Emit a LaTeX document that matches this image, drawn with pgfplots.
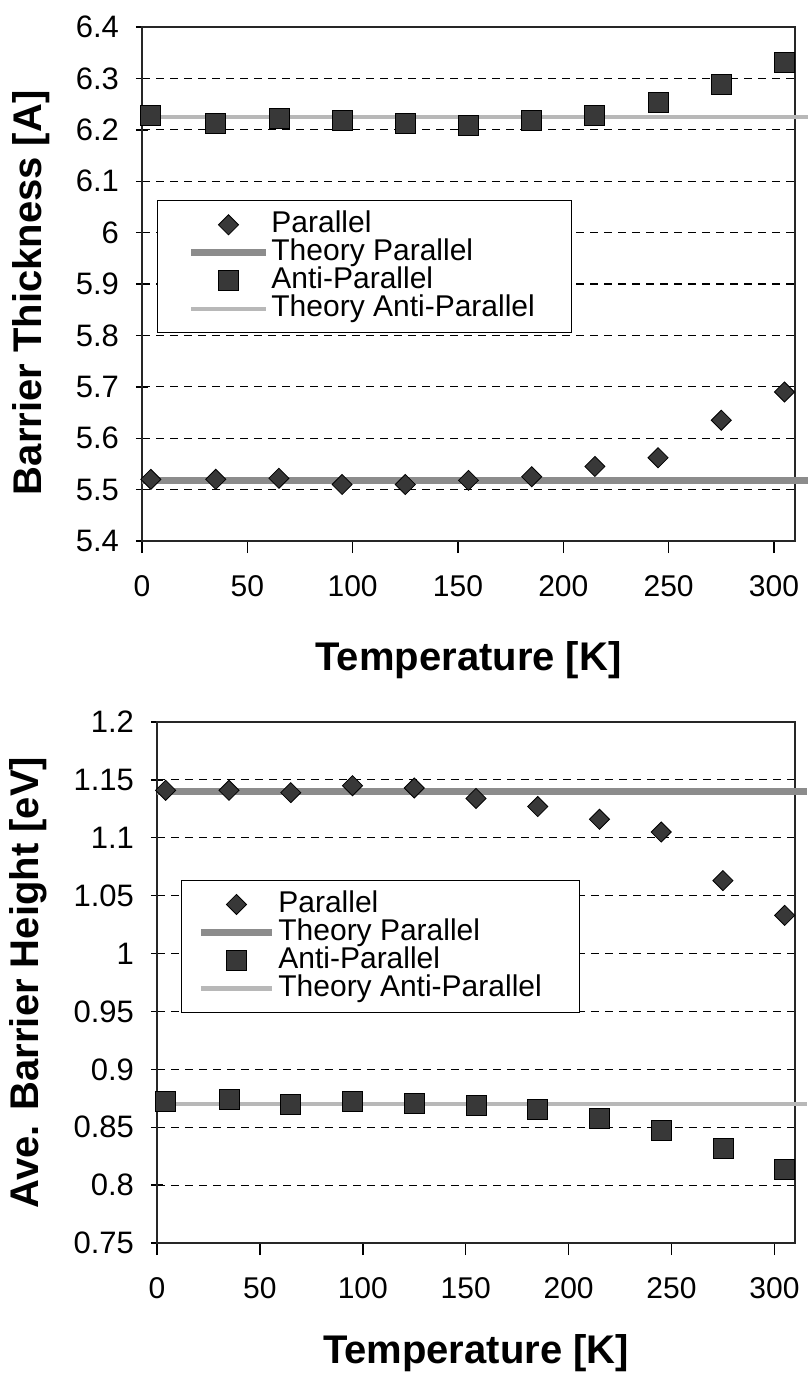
\documentclass[border=0pt]{standalone}
\usepackage{fontspec}
\setmainfont{Liberation Sans}
\usepackage{pgfplots}
\usepackage{pgfplotstable}
\pgfplotsset{compat=1.18}

\pgfplotstableread{
T    P      AP
4.2  5.520  6.229
35   5.520  6.213
65   5.522  6.223
95   5.510  6.219
125  5.510  6.213
155  5.518  6.208
185  5.525  6.218
215  5.545  6.229
245  5.562  6.254
275  5.635  6.289
305  5.690  6.332
}\toptable

\pgfplotstableread{
T    P      AP
4.2  1.141  0.872
35   1.141  0.874
65   1.139  0.870
95   1.145  0.872
125  1.143  0.871
155  1.134  0.869
185  1.127  0.865
215  1.116  0.858
245  1.105  0.847
275  1.063  0.832
305  1.033  0.814
}\bottable

\pgfplotsset{
  common/.style={
    scale only axis, clip=false,
    xmin=0, xmax=310, xtick={0,50,100,150,200,250,300},
    axis line style={line width=1.1pt, black!85},
    xtick pos=bottom, ytick pos=left,
    xtick align=outside, ytick align=center,
    major tick length=6pt,
    tick style={black, line width=0.7pt},
    ymajorgrids,
    grid style={black, line width=0.55pt, dash pattern=on 4pt off 3pt},
    xticklabel style={font=\fontsize{15}{17}\selectfont},
    yticklabel style={font=\fontsize{15.5}{17}\selectfont,
      /pgf/number format/fixed, /pgf/number format/precision=2},
    xticklabel shift=7.5pt,
    yticklabel shift=5pt,
    /pgf/number format/assume math mode=true,
    label style={font=\fontsize{20}{24}\selectfont\bfseries},
    legend cell align=left,
  },
  markP/.style={only marks, mark=square*, mark size=3.55pt,
     mark options={rotate=45, fill=black!78, draw=black, line width=0.4pt}},
  markAP/.style={only marks, mark=square*, mark size=5pt,
     mark options={fill=black!78, draw=black, line width=0.4pt}},
  thP/.style={no markers, black!45, line width=3.4pt},
  thAP/.style={no markers, black!28, line width=2.3pt},
  legMarkTop/.style={legend image code/.code={\draw[mark repeat=2,mark phase=2,##1] plot coordinates {(0pt,0pt) (18.75pt,0pt) (37.5pt,0pt)};}},
  legLineTop/.style={legend image code/.code={\draw[##1] (0pt,0pt) -- (37.5pt,0pt);}},
  legMarkBot/.style={legend image code/.code={\draw[mark repeat=2,mark phase=2,##1] plot coordinates {(0pt,0pt) (17.75pt,0pt) (35.5pt,0pt)};}},
  legLineBot/.style={legend image code/.code={\draw[##1] (0pt,0pt) -- (35.5pt,0pt);}},
}

\begin{document}
\begin{tikzpicture}
\path[use as bounding box] (0,0) rectangle (404pt,-691pt);

% ---------------- top plot ----------------
\begin{axis}[common,
  at={(71pt,-270.5pt)}, anchor=south west,
  width=326.5pt, height=257pt,
  ymin=5.4, ymax=6.4,
  ytick={5.4,5.5,5.6,5.7,5.8,5.9,6,6.1,6.2,6.3,6.4},
  xlabel={Temperature [K]},
  ylabel={Barrier Thickness [A]},
  xlabel style={at={(axis description cs:0.5,0)}, anchor=base, yshift=-64.5pt},
  ylabel style={at={(axis description cs:-0.170,0.483)}, anchor=center},
  legend style={at={(0.023,0.663)}, anchor=north west, draw=black, line width=0.6pt,
    inner xsep=15pt, inner ysep=5pt, row sep=0pt,
    font=\fontsize{15}{15}\selectfont,
    nodes={inner ysep=0pt, inner xsep=1pt, text height=10.8pt, text depth=3.2pt}},
]
\addplot[thP, forget plot] coordinates {(0,5.518) (316,5.518)};
\addplot[thAP, forget plot] coordinates {(0,6.225) (316,6.225)};
\addplot[markP, forget plot] table[x=T, y=P] {\toptable};
\addplot[markAP, forget plot] table[x=T, y=AP] {\toptable};

\addlegendimage{markP, legMarkTop}
\addlegendentry{\makebox[134pt][l]{Parallel}}
\addlegendimage{thP, legLineTop}
\addlegendentry{\makebox[134pt][l]{Theory Parallel}}
\addlegendimage{markAP, legMarkTop}
\addlegendentry{\makebox[134pt][l]{Anti-Parallel}}
\addlegendimage{thAP, legLineTop}
\addlegendentry{\makebox[134pt][l]{Theory Anti-Parallel}}
\end{axis}

% ---------------- bottom plot ----------------
\begin{axis}[common,
  at={(78.5pt,-621.5pt)}, anchor=south west,
  width=319pt, height=260.5pt,
  ymin=0.75, ymax=1.2,
  ytick={0.75,0.8,0.85,0.9,0.95,1,1.05,1.1,1.15,1.2},
  xlabel={Temperature [K]},
  ylabel={Ave. Barrier Height [eV]},
  xlabel style={at={(axis description cs:0.5,0)}, anchor=base, yshift=-60pt},
  ylabel style={at={(axis description cs:-0.202,0.5)}, anchor=center},
  legend style={at={(0.0376,0.697)}, anchor=north west, draw=black, line width=0.6pt,
    inner xsep=8pt, inner ysep=5pt, row sep=0pt,
    font=\fontsize{15}{15}\selectfont,
    nodes={inner ysep=0pt, inner xsep=1.5pt, text height=10.8pt, text depth=3.2pt}},
]
\addplot[thP, forget plot] coordinates {(0,1.140) (316,1.140)};
\addplot[thAP, forget plot] coordinates {(0,0.870) (316,0.870)};
\addplot[markP, forget plot] table[x=T, y=P] {\bottable};
\addplot[markAP, forget plot] table[x=T, y=AP] {\bottable};

\addlegendimage{markP, legMarkBot}
\addlegendentry{\makebox[141pt][l]{Parallel}}
\addlegendimage{thP, legLineBot}
\addlegendentry{\makebox[141pt][l]{Theory Parallel}}
\addlegendimage{markAP, legMarkBot}
\addlegendentry{\makebox[141pt][l]{Anti-Parallel}}
\addlegendimage{thAP, legLineBot}
\addlegendentry{\makebox[141pt][l]{Theory Anti-Parallel}}
\end{axis}
\end{tikzpicture}
\end{document}
